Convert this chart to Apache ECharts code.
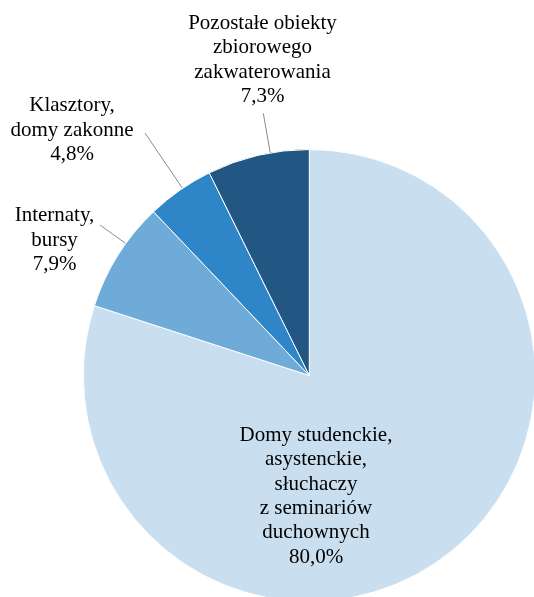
<!DOCTYPE html>
<html>
<head>
<meta charset="utf-8">
<script src="https://cdn.jsdelivr.net/npm/echarts@6/dist/echarts.min.js"></script>
<style>
html,body{margin:0;padding:0;background:#fff;}
#chart{width:534px;height:597px;}
</style>
</head>
<body>
<div id="chart"></div>
<script>
// Data
var categories = [
  'Domy studenckie,\nasystenckie,\nsłuchaczy\nz seminariów\nduchownych',
  'Internaty,\nbursy',
  'Klasztory,\ndomy zakonne',
  'Pozostałe obiekty\nzbiorowego\nzakwaterowania'
];
var shares = [80.0, 7.9, 4.8, 7.3];
var colors = ['#c9dff0', '#6eabd9', '#2e85c7', '#225783'];

// Layout (positions / styles)
var CENTER = [309.3, 375.5];
var RADIUS = 226;
var LABEL_POS = [[316, 496.3], [54.5, 240], [72, 130], [262.5, 59.8]];
var LINE_END_OFFSET = [null, [45.5, -15], [73, 3], [0.8, 53.5]];

var chart = echarts.init(document.getElementById('chart'), null, {renderer: 'canvas'});

var data = categories.map(function (c, i) {
  return {
    name: c,
    value: shares[i],
    itemStyle: {color: colors[i]},
    label: {position: i === 0 ? 'inside' : 'outside'},
    labelLine: {show: i !== 0}
  };
});

chart.setOption({
  backgroundColor: '#fff',
  animation: false,
  series: [{
    type: 'pie',
    center: CENTER,
    radius: RADIUS,
    startAngle: 90,
    clockwise: true,
    avoidLabelOverlap: false,
    data: data,
    itemStyle: {borderColor: '#ffffff', borderWidth: 1},
    label: {
      show: true,
      color: '#000',
      fontFamily: '"Liberation Serif", "Times New Roman", serif',
      fontSize: 21,
      lineHeight: 24.4,
      align: 'center',
      formatter: function (p) {
        return p.name + '\n' + p.value.toFixed(1).replace('.', ',') + '%';
      }
    },
    labelLine: {
      show: true,
      length: 10,
      length2: 10,
      lineStyle: {color: '#8c8c8c', width: 1}
    },
    labelLayout: function (params) {
      var i = params.dataIndex;
      var p = LABEL_POS[i];
      var res = {x: p[0], y: p[1], align: 'center', verticalAlign: 'middle'};
      var off = LINE_END_OFFSET[i];
      if (off) {
        var end = [p[0] + off[0], p[1] + off[1]];
        var dx = end[0] - CENTER[0], dy = end[1] - CENTER[1];
        var d = Math.sqrt(dx * dx + dy * dy);
        var start = [CENTER[0] + RADIUS * dx / d, CENTER[1] + RADIUS * dy / d];
        res.labelLinePoints = [start, end];
      }
      return res;
    }
  }]
});
</script>
</body>
</html>
